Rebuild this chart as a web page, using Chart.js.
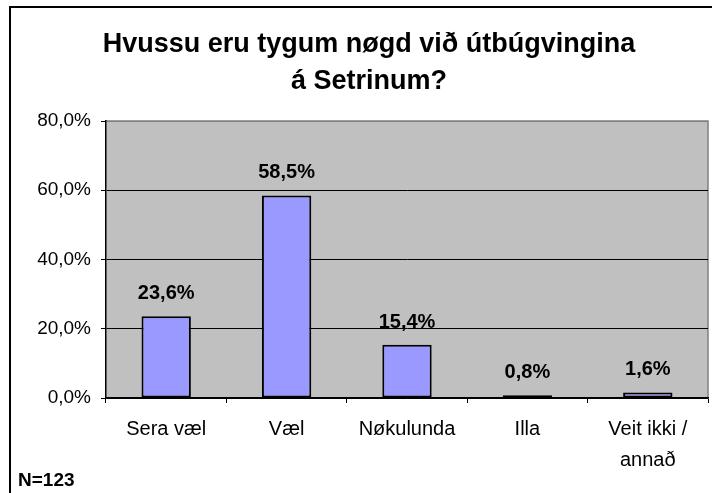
<!DOCTYPE html>
<html>
<head>
<meta charset="utf-8">
<script src="https://cdn.jsdelivr.net/npm/chart.js@4/dist/chart.umd.min.js"></script>
<style>
  html, body { margin: 0; padding: 0; background: #fff; }
  canvas { display: block; }
</style>
</head>
<body>
<canvas id="c" width="712" height="493"></canvas>
<script>
const titleLines = ['Hvussu eru tygum nøgd við útbúgvingina', 'á Setrinum?'];
const categories = ['Sera væl', 'Væl', 'Nøkulunda', 'Illa', ['Veit ikki /', 'annað']];
const values = [23.6, 58.5, 15.4, 0.8, 1.6];
const yTicks = [0, 20, 40, 60, 80];
const sampleNote = 'N=123';

const FONT = "'Liberation Sans', Arial, sans-serif";
const fmt = v => v.toFixed(1).replace('.', ',') + '%';

const decor = {
  id: 'decor',
  beforeDraw(chart) {
    const ctx = chart.ctx;
    const a = chart.chartArea;
    ctx.save();
    ctx.fillStyle = '#fff';
    ctx.fillRect(0, 0, chart.width, chart.height);
    ctx.fillStyle = '#C0C0C0';
    ctx.fillRect(a.left, a.top, a.right - a.left, a.bottom - a.top);
    ctx.strokeStyle = '#808080';
    ctx.lineWidth = 1.5;
    ctx.beginPath();
    ctx.moveTo(a.left, a.top);
    ctx.lineTo(a.right, a.top);
    ctx.lineTo(a.right, a.bottom);
    ctx.stroke();
    ctx.restore();
  },
  afterDraw(chart) {
    const ctx = chart.ctx;
    ctx.save();
    // outer frame
    ctx.strokeStyle = '#000';
    ctx.lineWidth = 2;
    ctx.strokeRect(10, 7, 720, 520);
    // title
    ctx.fillStyle = '#000';
    ctx.textAlign = 'center';
    ctx.textBaseline = 'alphabetic';
    ctx.font = 'bold 27px ' + FONT;
    ctx.fillText(titleLines[0], 369, 52);
    ctx.fillText(titleLines[1], 369, 89);
    // data labels
    ctx.font = 'bold 20px ' + FONT;
    const meta = chart.getDatasetMeta(0);
    meta.data.forEach((bar, i) => {
      ctx.fillText(fmt(values[i]), bar.x, bar.y - 17);
    });
    // N note
    ctx.textAlign = 'left';
    ctx.font = 'bold 19px ' + FONT;
    ctx.fillText(sampleNote, 18, 486);
    ctx.restore();
  }
};

new Chart(document.getElementById('c'), {
  type: 'bar',
  data: {
    labels: categories,
    datasets: [{
      data: values,
      backgroundColor: '#9999FF',
      borderColor: '#000',
      borderWidth: 2,
      borderSkipped: false,
      barPercentage: 0.41,
      categoryPercentage: 1
    }]
  },
  options: {
    responsive: false,
    animation: false,
    devicePixelRatio: 1,
    layout: { padding: { left: 0, right: 4, top: 121, bottom: 0 } },
    plugins: {
      legend: { display: false },
      title: { display: false },
      tooltip: { enabled: false }
    },
    scales: {
      x: {
        grid: {
          offset: true,
          drawOnChartArea: false,
          tickLength: 5,
          tickColor: '#000',
          tickWidth: 1
        },
        border: { color: '#000', width: 1.5 },
        ticks: {
          color: '#000',
          padding: 11,
          maxRotation: 0,
          autoSkip: false,
          font: { family: FONT, size: 20, lineHeight: 1.55 }
        },
        afterFit(scale) { scale.height = 95; }
      },
      y: {
        min: 0,
        max: 80,
        afterBuildTicks(scale) { scale.ticks = yTicks.map(v => ({ value: v })); },
        grid: {
          color: ctx => (ctx.tick && ctx.tick.value === 80) ? '#808080' : '#000',
          lineWidth: 1,
          tickLength: 5,
          tickColor: '#000'
        },
        border: { color: '#000', width: 1.5 },
        ticks: {
          color: '#000',
          padding: 10,
          font: { family: FONT, size: 19 },
          callback: v => fmt(v)
        },
        afterFit(scale) { scale.width = 106; }
      }
    }
  },
  plugins: [decor]
});
</script>
</body>
</html>
